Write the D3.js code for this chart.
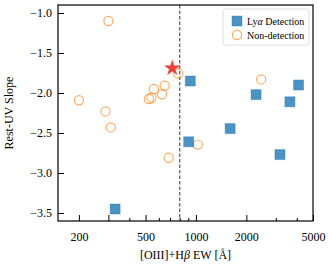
<!DOCTYPE html>
<html>
<head>
<meta charset="utf-8">
<script src="https://cdn.jsdelivr.net/npm/d3@7"></script>
<style>
  body { margin: 0; background: #fff; }
  text { font-family: "Liberation Serif", "Times New Roman", serif; }
</style>
</head>
<body>
<div id="root"></div>
<script>
// Lya detections
const detEW = [925, 2285, 4100, 3640, 1600, 905, 3175, 329];
const detSlope = [-1.85, -2.02, -1.90, -2.11, -2.445, -2.61, -2.77, -3.45];

// non-detections
const nonEW = [300, 200, 288, 560, 524, 542, 650, 627, 784, 310, 687, 2450, 1026];
const nonSlope = [-1.10, -2.09, -2.23, -1.95, -2.075, -2.06, -1.91, -2.015, -1.757, -2.43, -2.81, -1.83, -2.645];

// star marker
const starEW = [722];
const starSlope = [-1.69];

const cutEW = 800;

const xTickVals = [200, 500, 1000, 2000, 5000];
const xMajorNoLabel = [300];
const xMinorVals = [400, 600, 700, 800, 900, 3000, 4000];
const yTickVals = [-1.0, -1.5, -2.0, -2.5, -3.0, -3.5];

const W = 331, H = 264;
const margin = { top: 5, right: 18, bottom: 43, left: 58 };
const width = W - margin.left - margin.right;
const height = H - margin.top - margin.bottom;

const x = d3.scaleLog().domain([150, 5000]).range([0, width]);
const y = d3.scaleLinear().domain([-3.6, -0.9]).range([height, 0]);

const svg = d3.select("#root").append("svg")
  .attr("width", W).attr("height", H);

const g = svg.append("g")
  .attr("transform", `translate(${margin.left},${margin.top})`);

// axes, ticks pointing inward
const xAxis = d3.axisBottom(x).tickValues(xTickVals).tickFormat(d3.format("d"))
  .tickSizeInner(-6).tickSizeOuter(0).tickPadding(11);
const xMinor = d3.axisBottom(x).tickValues(xMinorVals).tickFormat("")
  .tickSizeInner(-3).tickSizeOuter(0);
const xMid = d3.axisBottom(x).tickValues(xMajorNoLabel).tickFormat("")
  .tickSizeInner(-6).tickSizeOuter(0);
const yAxis = d3.axisLeft(y).tickValues(yTickVals)
  .tickFormat((d) => d3.format(".1f")(d).replace("-", "\u2212"))
  .tickSizeInner(-6).tickSizeOuter(0).tickPadding(6);

[xAxis, xMinor, xMid].forEach((ax) => {
  g.append("g")
    .attr("class", "x-axis")
    .attr("transform", `translate(0,${height})`)
    .call(ax);
});
g.append("g").attr("class", "y-axis").call(yAxis);

g.selectAll(".domain").remove();
g.selectAll(".tick line").attr("stroke", "#000").attr("stroke-width", 1);
g.selectAll(".tick text").attr("font-size", 12).attr("fill", "#000");

// dashed cut line
g.append("line")
  .attr("x1", x(cutEW)).attr("x2", x(cutEW))
  .attr("y1", 0).attr("y2", height)
  .attr("stroke", "#555").attr("stroke-width", 1.2)
  .attr("stroke-dasharray", "3.5,2");

// non-detections
g.append("g").selectAll("circle")
  .data(nonEW.map((v, i) => [v, nonSlope[i]]))
  .enter().append("circle")
  .attr("cx", (d) => x(d[0]))
  .attr("cy", (d) => y(d[1]))
  .attr("r", 4.6)
  .attr("fill", "none")
  .attr("stroke", "#ff7f0e")
  .attr("stroke-opacity", 0.65)
  .attr("stroke-width", 1.2);

// detections
const sq = 10;
g.append("g").selectAll("rect")
  .data(detEW.map((v, i) => [v, detSlope[i]]))
  .enter().append("rect")
  .attr("x", (d) => x(d[0]) - sq / 2)
  .attr("y", (d) => y(d[1]) - sq / 2)
  .attr("width", sq).attr("height", sq)
  .attr("fill", "#1f77b4")
  .attr("fill-opacity", 0.8)
  .attr("stroke", "#1f77b4")
  .attr("stroke-opacity", 0.4)
  .attr("stroke-width", 1);

// star
g.append("g").selectAll("path")
  .data(starEW.map((v, i) => [v, starSlope[i]]))
  .enter().append("path")
  .attr("d", d3.symbol(d3.symbolStar, 70))
  .attr("transform", (d) => `translate(${x(d[0])},${y(d[1])})`)
  .attr("fill", "#e8413c")
  .attr("stroke", "#e8413c")
  .attr("stroke-width", 0.5);

// frame
g.append("rect")
  .attr("width", width).attr("height", height)
  .attr("fill", "none").attr("stroke", "#000").attr("stroke-width", 1.2);

// legend
const lg = g.append("g").attr("transform", `translate(${width - 90},4)`);
lg.append("rect")
  .attr("width", 86).attr("height", 36).attr("rx", 2.5)
  .attr("fill", "#fff").attr("fill-opacity", 0.8)
  .attr("stroke", "#ddd").attr("stroke-width", 1);
lg.append("rect")
  .attr("x", 9).attr("y", 7).attr("width", 10).attr("height", 10)
  .attr("fill", "#1f77b4").attr("fill-opacity", 0.8)
  .attr("stroke", "#1f77b4").attr("stroke-opacity", 0.4);
lg.append("circle")
  .attr("cx", 14).attr("cy", 26).attr("r", 4.6)
  .attr("fill", "none").attr("stroke", "#ff7f0e")
  .attr("stroke-opacity", 0.65).attr("stroke-width", 1.2);
const t1 = lg.append("text").attr("x", 24).attr("y", 15.5).attr("font-size", 10);
t1.append("tspan").text("Ly");
t1.append("tspan").attr("font-style", "italic").text("\u03b1");
t1.append("tspan").text(" Detection");
lg.append("text").attr("x", 24).attr("y", 29.5).attr("font-size", 10)
  .text("Non-detection");

// axis labels
const xl = svg.append("text")
  .attr("x", margin.left + width / 2)
  .attr("y", 258.5)
  .attr("text-anchor", "middle")
  .attr("font-size", 12);
xl.append("tspan").text("[OIII]+H");
xl.append("tspan").attr("font-style", "italic").text("\u03b2");
xl.append("tspan").text(" EW [\u00c5]");

svg.append("text")
  .attr("transform", `translate(13,${margin.top + height / 2}) rotate(-90)`)
  .attr("text-anchor", "middle")
  .attr("font-size", 12)
  .text("Rest-UV Slope");
</script>
</body>
</html>
